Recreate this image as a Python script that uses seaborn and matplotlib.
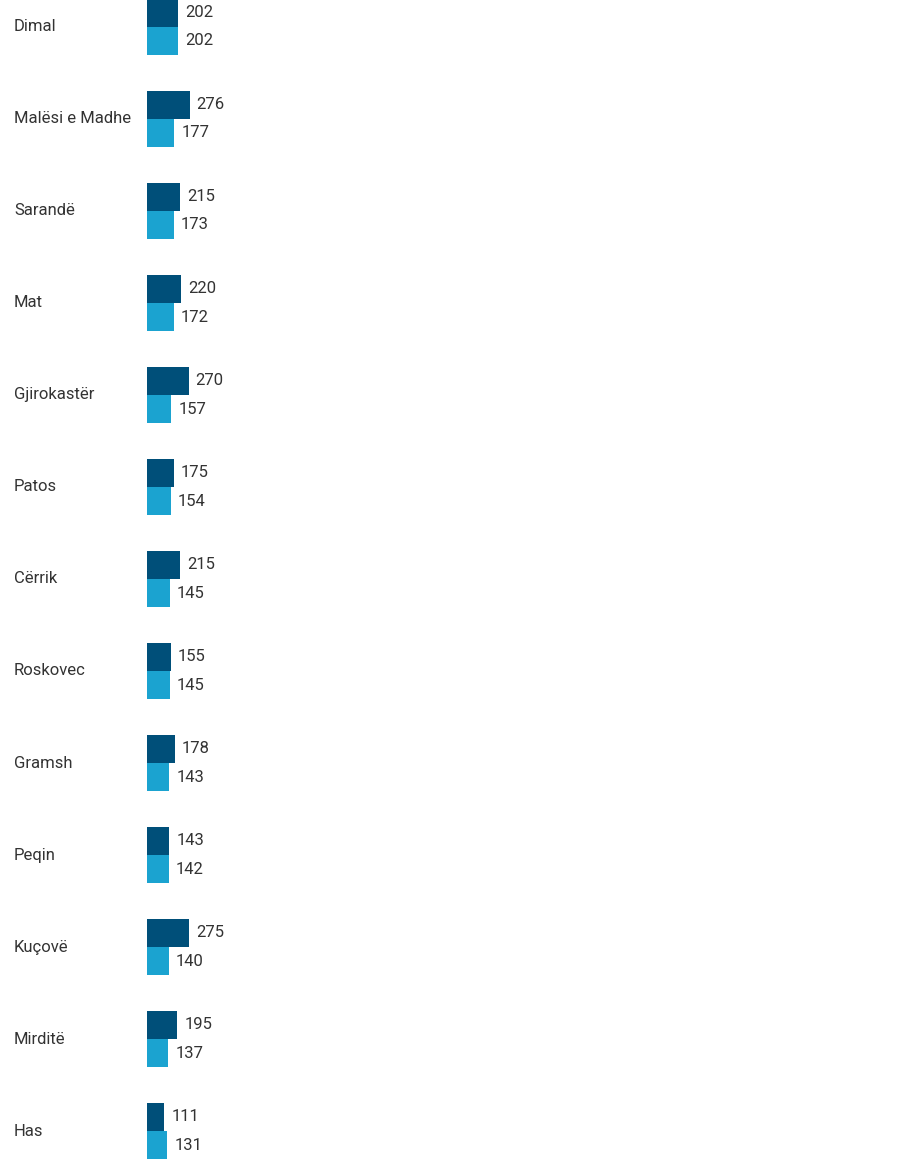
import pandas as pd
import matplotlib.pyplot as plt
import matplotlib.transforms as mtransforms
import seaborn as sns

# bashkite dhe dy seri vlerash
bashkite = ['Dimal', 'Malësi e Madhe', 'Sarandë', 'Mat', 'Gjirokastër', 'Patos',
            'Cërrik', 'Roskovec', 'Gramsh', 'Peqin', 'Kuçovë', 'Mirditë', 'Has']
seria_1 = [202, 276, 215, 220, 270, 175, 215, 155, 178, 143, 275, 195, 111]
seria_2 = [202, 177, 173, 172, 157, 154, 145, 145, 143, 142, 140, 137, 131]
emrat = ['Seria 1', 'Seria 2']
ngjyrat = ['#004f79', '#1ba3d0']

df = pd.DataFrame({
    'Bashkia': bashkite * 2,
    'Vlera': seria_1 + seria_2,
    'Seria': [emrat[0]] * len(bashkite) + [emrat[1]] * len(bashkite),
})

sns.set_style('white')
plt.rcParams['font.family'] = ['Roboto', 'DejaVu Sans']

fig = plt.figure(figsize=(9, 11.75), dpi=100)
ax = fig.add_axes([0, 0, 1, 1])

sns.barplot(data=df, y='Bashkia', x='Vlera', hue='Seria', orient='h',
            palette=ngjyrat, width=0.61, dodge=True, ax=ax,
            saturation=1, legend=False, linewidth=0)

# shkalla: ~0.153 px per njesi, bari nis te x=148 px
ax.set_xlim(-962, 4915)
ax.set_ylim(12.478, -0.293)

for c in ax.containers:
    ax.bar_label(c, padding=5, fontsize=12, color='#333333')

trans = mtransforms.blended_transform_factory(ax.transAxes, ax.transData)
for i, b in enumerate(bashkite):
    ax.text(14 / 900, i, b, transform=trans, ha='left', va='center',
            fontsize=12, color='#333333')

ax.set_xticks([])
ax.set_yticks([])
ax.set_xlabel('')
ax.set_ylabel('')
sns.despine(ax=ax, left=True, bottom=True)

fig.savefig('out.png', dpi=100)
